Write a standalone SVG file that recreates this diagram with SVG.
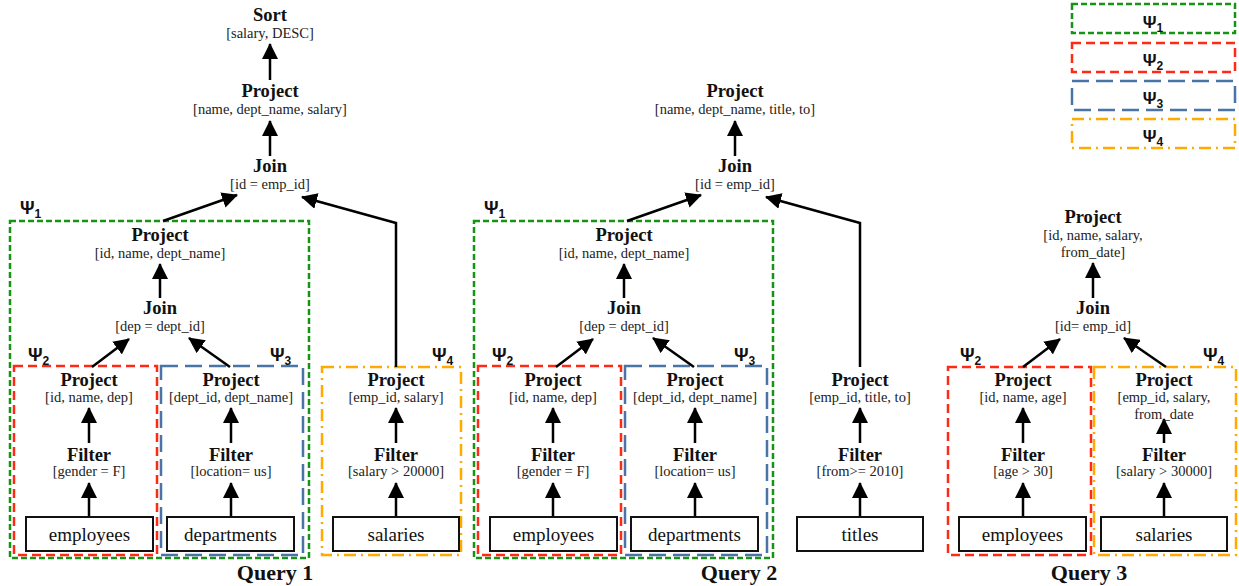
<svg xmlns="http://www.w3.org/2000/svg" width="1239" height="586" viewBox="0 0 1239 586">
<defs>
<marker id="ah" markerUnits="userSpaceOnUse" markerWidth="16" markerHeight="16" refX="15" refY="8" orient="auto" viewBox="0 0 16 16">
<path d="M0,0 L16,8 L0,16 z" fill="#000"/>
</marker>
<style>
.t{font-family:"Liberation Serif","Times New Roman",serif;font-weight:bold;font-size:18.5px;text-anchor:middle;fill:#111}
.s{font-family:"Liberation Serif","Times New Roman",serif;font-size:14.5px;text-anchor:middle;fill:#222}
.tb{font-family:"Liberation Serif","Times New Roman",serif;font-size:19px;text-anchor:middle;fill:#111}
.q{font-family:"Liberation Serif","Times New Roman",serif;font-weight:bold;font-size:22px;text-anchor:middle;fill:#111}
.p{font-family:"Liberation Sans",Arial,sans-serif;font-weight:bold;font-size:18px;fill:#111}
.pl{font-family:"Liberation Sans",Arial,sans-serif;font-weight:bold;font-size:17px;fill:#111;text-anchor:middle}
.sub{font-size:12px}
.box{fill:#fff;stroke:#111;stroke-width:2}
.g{fill:none;stroke:#159415;stroke-width:2.5;stroke-dasharray:6 3}
.r{fill:none;stroke:#ff2a14;stroke-width:2.5;stroke-dasharray:9 5}
.b{fill:none;stroke:#4a74a6;stroke-width:2.5;stroke-dasharray:17 7}
.o{fill:none;stroke:#ffaa00;stroke-width:2.5;stroke-dasharray:12 5 2 5}
.a{fill:none;stroke:#000;stroke-width:2.5;marker-end:url(#ah)}
</style>
</defs>

<!-- Legend -->
<g id="legend">
<rect class="g" x="1072" y="4" width="163" height="29"/>
<text class="pl" x="1153" y="28">Ψ<tspan class="sub" dy="4">1</tspan></text>
<rect class="r" x="1072" y="43" width="163" height="29"/>
<text class="pl" x="1153" y="66">Ψ<tspan class="sub" dy="4">2</tspan></text>
<rect class="b" x="1072" y="81" width="163" height="29"/>
<text class="pl" x="1153" y="104">Ψ<tspan class="sub" dy="4">3</tspan></text>
<rect class="o" x="1072" y="119" width="163" height="29"/>
<text class="pl" x="1153" y="142">Ψ<tspan class="sub" dy="4">4</tspan></text>
</g>

<!-- Group boxes -->
<g id="groups">
<rect class="g" x="10" y="221" width="299" height="337"/>
<text class="p" x="20" y="214">Ψ<tspan class="sub" dy="4">1</tspan></text>
<rect class="r" x="14" y="366" width="143" height="189"/>
<text class="p" x="28" y="361">Ψ<tspan class="sub" dy="4">2</tspan></text>
<rect class="b" x="161" y="366" width="142" height="189"/>
<text class="p" x="270" y="361">Ψ<tspan class="sub" dy="4">3</tspan></text>
<rect class="o" x="322" y="367" width="139" height="188"/>
<text class="p" x="432" y="361">Ψ<tspan class="sub" dy="4">4</tspan></text>

<rect class="g" x="474" y="221" width="299" height="337"/>
<text class="p" x="484" y="214">Ψ<tspan class="sub" dy="4">1</tspan></text>
<rect class="r" x="478" y="366" width="143" height="189"/>
<text class="p" x="492" y="361">Ψ<tspan class="sub" dy="4">2</tspan></text>
<rect class="b" x="625" y="366" width="142" height="189"/>
<text class="p" x="734" y="361">Ψ<tspan class="sub" dy="4">3</tspan></text>

<rect class="r" x="948" y="367" width="143" height="188"/>
<text class="p" x="960" y="361">Ψ<tspan class="sub" dy="4">2</tspan></text>
<rect class="o" x="1094" y="367" width="142" height="188"/>
<text class="p" x="1203" y="361">Ψ<tspan class="sub" dy="4">4</tspan></text>
</g>

<!-- Connectors -->
<g id="connectors">
<!-- Query 1 -->
<line class="a" x1="270" y1="80" x2="270" y2="44"/>
<line class="a" x1="270" y1="156" x2="270" y2="121"/>
<line class="a" x1="163" y1="221" x2="237" y2="195"/>
<polyline class="a" points="396,367 396,223 302,197"/>
<line class="a" x1="160" y1="298" x2="160" y2="264"/>
<line class="a" x1="92" y1="367" x2="129" y2="339"/>
<line class="a" x1="230" y1="367" x2="189" y2="338"/>
<line class="a" x1="89" y1="443" x2="89" y2="408"/>
<line class="a" x1="89" y1="517" x2="89" y2="483"/>
<line class="a" x1="231" y1="443" x2="231" y2="408"/>
<line class="a" x1="231" y1="517" x2="231" y2="483"/>
<line class="a" x1="396" y1="443" x2="396" y2="408"/>
<line class="a" x1="396" y1="517" x2="396" y2="483"/>
<!-- Query 2 -->
<line class="a" x1="735" y1="156" x2="735" y2="121"/>
<line class="a" x1="627" y1="221" x2="701" y2="195"/>
<polyline class="a" points="860,367 860,223 766,197"/>
<line class="a" x1="624" y1="298" x2="624" y2="264"/>
<line class="a" x1="556" y1="367" x2="593" y2="339"/>
<line class="a" x1="694" y1="367" x2="653" y2="338"/>
<line class="a" x1="553" y1="443" x2="553" y2="408"/>
<line class="a" x1="553" y1="517" x2="553" y2="483"/>
<line class="a" x1="695" y1="443" x2="695" y2="408"/>
<line class="a" x1="695" y1="517" x2="695" y2="483"/>
<line class="a" x1="860" y1="443" x2="860" y2="408"/>
<line class="a" x1="860" y1="517" x2="860" y2="483"/>
<!-- Query 3 -->
<line class="a" x1="1093" y1="298" x2="1093" y2="263"/>
<line class="a" x1="1023" y1="367" x2="1060" y2="339"/>
<line class="a" x1="1166" y1="367" x2="1124" y2="338"/>
<line class="a" x1="1023" y1="443" x2="1023" y2="408"/>
<line class="a" x1="1023" y1="517" x2="1023" y2="483"/>
<line class="a" x1="1164" y1="443" x2="1164" y2="419"/>
<line class="a" x1="1164" y1="517" x2="1164" y2="483"/>
</g>

<!-- Query 1 nodes -->
<g id="q1-sort"><text class="t" x="270" y="21">Sort</text><text class="s" x="270" y="38">[salary, DESC]</text></g>
<g id="q1-project-top"><text class="t" x="270" y="97">Project</text><text class="s" x="270" y="114">[name, dept_name, salary]</text></g>
<g id="q1-join-top"><text class="t" x="270" y="172">Join</text><text class="s" x="270" y="189">[id = emp_id]</text></g>
<g id="q1-project-mid"><text class="t" x="160" y="241">Project</text><text class="s" x="160" y="258">[id, name, dept_name]</text></g>
<g id="q1-join-mid"><text class="t" x="160" y="314">Join</text><text class="s" x="160" y="331">[dep = dept_id]</text></g>
<g id="q1-project-emp"><text class="t" x="89" y="386">Project</text><text class="s" x="89" y="402">[id, name, dep]</text></g>
<g id="q1-filter-emp"><text class="t" x="89" y="461">Filter</text><text class="s" x="89" y="476">[gender = F]</text></g>
<g id="q1-employees"><rect class="box" x="26" y="517" width="127" height="34"/><text class="tb" x="89.5" y="541">employees</text></g>
<g id="q1-project-dep"><text class="t" x="231" y="386">Project</text><text class="s" x="231" y="402">[dept_id, dept_name]</text></g>
<g id="q1-filter-dep"><text class="t" x="231" y="461">Filter</text><text class="s" x="231" y="476">[location= us]</text></g>
<g id="q1-departments"><rect class="box" x="167" y="517" width="127" height="34"/><text class="tb" x="230.5" y="541">departments</text></g>
<g id="q1-project-sal"><text class="t" x="396" y="386">Project</text><text class="s" x="396" y="402">[emp_id, salary]</text></g>
<g id="q1-filter-sal"><text class="t" x="396" y="461">Filter</text><text class="s" x="396" y="476">[salary &gt; 20000]</text></g>
<g id="q1-salaries"><rect class="box" x="333" y="517" width="126" height="34"/><text class="tb" x="396" y="541">salaries</text></g>
<text class="q" x="275" y="580">Query 1</text>

<!-- Query 2 nodes -->
<g id="q2-project-top"><text class="t" x="735" y="97">Project</text><text class="s" x="735" y="114">[name, dept_name, title, to]</text></g>
<g id="q2-join-top"><text class="t" x="735" y="172">Join</text><text class="s" x="735" y="189">[id = emp_id]</text></g>
<g id="q2-project-mid"><text class="t" x="624" y="241">Project</text><text class="s" x="624" y="258">[id, name, dept_name]</text></g>
<g id="q2-join-mid"><text class="t" x="624" y="314">Join</text><text class="s" x="624" y="331">[dep = dept_id]</text></g>
<g id="q2-project-emp"><text class="t" x="553" y="386">Project</text><text class="s" x="553" y="402">[id, name, dep]</text></g>
<g id="q2-filter-emp"><text class="t" x="553" y="461">Filter</text><text class="s" x="553" y="476">[gender = F]</text></g>
<g id="q2-employees"><rect class="box" x="490" y="517" width="127" height="34"/><text class="tb" x="553.5" y="541">employees</text></g>
<g id="q2-project-dep"><text class="t" x="695" y="386">Project</text><text class="s" x="695" y="402">[dept_id, dept_name]</text></g>
<g id="q2-filter-dep"><text class="t" x="695" y="461">Filter</text><text class="s" x="695" y="476">[location= us]</text></g>
<g id="q2-departments"><rect class="box" x="631" y="517" width="127" height="34"/><text class="tb" x="694.5" y="541">departments</text></g>
<g id="q2-project-titles"><text class="t" x="860" y="386">Project</text><text class="s" x="860" y="402">[emp_id, title, to]</text></g>
<g id="q2-filter-titles"><text class="t" x="860" y="461">Filter</text><text class="s" x="860" y="476">[from&gt;= 2010]</text></g>
<g id="q2-titles"><rect class="box" x="797" y="517" width="126" height="34"/><text class="tb" x="860" y="541">titles</text></g>
<text class="q" x="739" y="580">Query 2</text>

<!-- Query 3 nodes -->
<g id="q3-project-top"><text class="t" x="1093" y="223">Project</text><text class="s" x="1093" y="240">[id, name, salary,</text><text class="s" x="1093" y="257">from_date]</text></g>
<g id="q3-join"><text class="t" x="1093" y="314">Join</text><text class="s" x="1093" y="331">[id= emp_id]</text></g>
<g id="q3-project-emp"><text class="t" x="1023" y="386">Project</text><text class="s" x="1023" y="402">[id, name, age]</text></g>
<g id="q3-filter-emp"><text class="t" x="1023" y="461">Filter</text><text class="s" x="1023" y="476">[age &gt; 30]</text></g>
<g id="q3-employees"><rect class="box" x="959" y="517" width="127" height="34"/><text class="tb" x="1022.5" y="541">employees</text></g>
<g id="q3-project-sal"><text class="t" x="1164" y="386">Project</text><text class="s" x="1164" y="402">[emp_id, salary,</text><text class="s" x="1164" y="419">from_date</text></g>
<g id="q3-filter-sal"><text class="t" x="1164" y="461">Filter</text><text class="s" x="1164" y="476">[salary &gt; 30000]</text></g>
<g id="q3-salaries"><rect class="box" x="1101" y="517" width="126" height="34"/><text class="tb" x="1164" y="541">salaries</text></g>
<text class="q" x="1089" y="580">Query 3</text>
</svg>
